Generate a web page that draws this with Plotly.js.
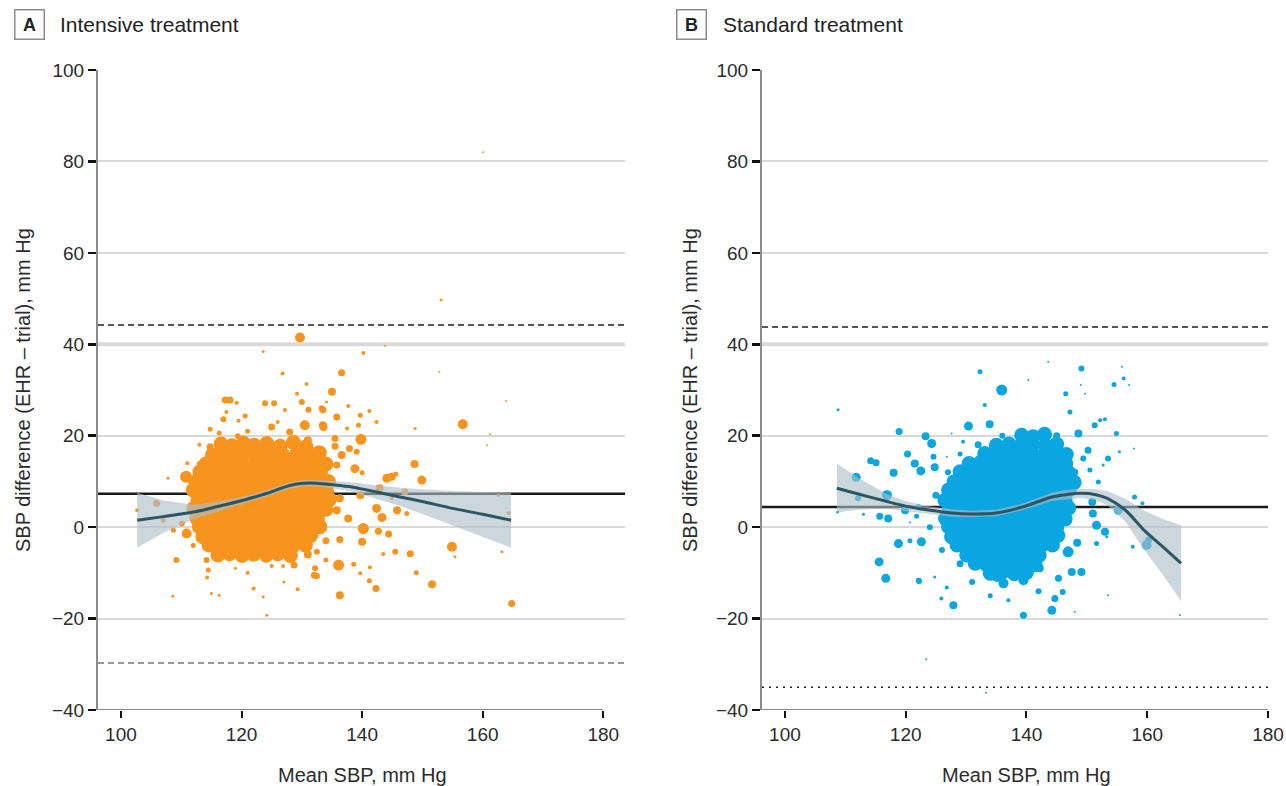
<!DOCTYPE html>
<html>
<head>
<meta charset="utf-8">
<script src="https://cdn.plot.ly/plotly-3.0.1.min.js"></script>
<style>html,body{margin:0;padding:0;background:#fff;}#chart{width:1286px;height:786px;}</style>
</head>
<body>
<div id="chart"></div>
<script>
// ---------- Panel A: Intensive treatment ----------
const intensiveCoreX = [
116.6,118.4,120.3,122.1,124.2,126.4,128.6,130.7,
115.2,117.1,119.0,121.1,123.0,125.1,127.0,129.2,131.1,132.9,
114.1,116.0,118.1,120.0,122.2,124.0,126.1,128.0,130.1,132.0,134.0,
113.1,115.0,117.2,119.1,121.0,123.1,125.0,127.1,129.0,131.2,133.1,
112.4,114.5,116.4,118.6,120.5,122.4,124.6,126.5,128.4,130.6,132.5,134.4,
112.0,114.1,116.0,118.1,120.0,122.1,124.0,126.1,128.0,130.1,132.0,134.1,
112.8,114.9,116.8,118.9,120.8,122.9,124.8,126.9,128.8,130.9,132.8,134.6,
112.1,114.0,116.1,118.0,120.1,122.0,124.1,126.0,128.1,130.0,132.1,134.0,
112.6,114.5,116.6,118.5,120.6,122.5,124.6,126.5,128.6,130.5,132.6,
113.0,115.1,117.0,119.1,121.0,123.1,125.0,127.1,129.0,131.1,133.0,
113.6,115.5,117.6,119.5,121.6,123.5,125.6,127.5,129.6,131.5,
114.6,116.5,118.6,120.5,122.6,124.5,126.6,128.5,130.6,
116.1,118.0,120.1,122.0,124.1,126.0,128.1
];
const intensiveCoreY = [
18.2,17.8,18.4,17.9,18.3,17.7,18.5,17.6,
15.8,16.2,15.7,16.3,15.9,16.1,15.6,16.2,15.9,16.3,
13.8,14.2,13.9,14.1,13.7,14.3,13.8,14.2,13.9,14.1,13.8,
12.1,11.8,12.2,11.9,12.1,11.8,12.2,11.9,12.1,11.8,12.0,
9.9,10.2,9.8,10.1,9.9,10.2,9.8,10.1,9.9,10.2,9.8,10.0,
8.1,7.8,8.2,7.9,8.1,7.8,8.2,7.9,8.1,7.8,8.2,7.9,
5.9,6.2,5.8,6.1,5.9,6.2,5.8,6.1,5.9,6.2,5.8,6.1,
4.1,3.8,4.2,3.9,4.1,3.8,4.2,3.9,4.1,3.8,4.2,3.9,
1.9,2.2,1.8,2.1,1.9,2.2,1.8,2.1,1.9,2.2,1.8,
0.1,-0.2,0.2,-0.1,0.1,-0.2,0.2,-0.1,0.1,-0.2,0.1,
-2.1,-1.8,-2.2,-1.9,-2.1,-1.8,-2.2,-1.9,-2.1,-1.8,
-3.9,-4.2,-3.8,-4.1,-3.9,-4.2,-3.8,-4.1,-3.9,
-6.1,-5.8,-6.2,-5.9,-6.1,-5.8,-6.2
];
const intensiveX = [
129.7,123.6,126.8,130.8,117.3,118.1,119.2,123.9,125.4,129.2,
130.0,131.1,133.3,127.2,117.5,117.0,119.5,120.6,114.8,116.3,
125.0,128.0,130.5,133.5,114.8,119.4,110.8,107.8,113.0,114.2,
105.9,102.7,107.0,108.7,110.9,110.1,109.2,108.6,114.2,114.5,
114.3,115.0,116.3,122.0,124.2,123.6,128.7,132.2,132.5,129.3,
132.5,126.9,125.0,118.1,140.2,136.6,135.0,134.1,133.5,137.7,
141.2,135.8,139.7,142.4,133.6,139.4,137.5,148.8,152.8,163.9,
156.7,161.2,160.7,139.8,135.5,137.9,135.5,139.1,136.6,138.8,
135.8,140.0,148.7,144.1,144.9,145.6,149.9,142.9,147.1,139.7,
136.3,144.9,162.6,142.4,145.8,147.4,135.8,137.7,143.3,164.3,
140.2,142.7,144.4,140.0,136.3,145.5,148.0,143.5,154.9,163.2,
155.4,136.1,138.6,134.0,141.3,139.7,149.0,141.2,142.3,151.6,
136.3,164.8,143.8,153.1,160.1,132.1,121.0,119.0,127.0,112.0,
111.0,113.0,121.0,126.0,131.0,133.0,134.0,131.0,124.0,120.0,
116.0
];
const intensiveY = [
41.5,38.4,33.6,31.3,27.8,27.8,27.2,27.1,27.1,29.2,
27.4,25.7,26.0,25.6,25.2,23.6,23.3,24.3,21.4,20.6,
21.9,20.8,22.3,22.3,17.6,19.9,11.0,10.7,13.9,15.0,
5.2,3.7,1.5,-0.7,-1.4,0.8,-7.2,-15.1,-7.2,-9.4,
-11.0,-14.5,-14.9,-13.4,-19.3,-15.2,-8.3,-9.0,-10.7,-13.6,
-5.4,-8.5,-8.5,-5.4,38.1,33.8,29.6,27.4,25.7,26.5,
25.4,24.1,24.5,23.0,21.9,22.3,21.6,21.6,34.0,27.6,
22.5,20.3,17.9,19.2,19.4,17.2,17.7,16.5,15.8,12.8,
13.6,11.9,13.8,10.7,11.0,11.6,10.3,8.5,7.7,7.0,
6.3,6.3,7.0,4.1,3.7,3.0,3.7,1.9,2.1,3.1,
-0.3,-0.9,-1.5,-3.2,-2.7,-5.4,-5.8,-5.9,-4.3,-5.4,
-6.5,-8.3,-8.1,-7.2,-8.8,-10.1,-10.0,-11.7,-13.4,-12.5,
-14.9,-16.7,39.7,49.7,82.0,-10.5,-10.0,-9.0,-12.0,-4.0,
14.0,18.0,21.0,23.0,19.0,16.0,-3.0,-6.0,-7.0,-7.0,
-3.0
];
const intensiveSize = [
10,3,4,4,7,7,4,6,6,4,
6,6,6,4,4,6,4,5,5,5,
7,7,10,8,7,6,12,3,5,5,
7,4,5,5,10,6,6,3,6,5,
4,3,3,4,3,3,7,6,6,4,
6,4,4,6,4,7,8,3,7,4,
4,7,5,4,8,5,4,3,2,2,
10,2,2,11,7,7,7,6,8,9,
7,5,8,9,8,5,9,8,7,8,
8,4,3,9,8,5,8,8,9,4,
11,7,7,8,7,6,7,4,10,3,
3,11,5,5,4,4,5,5,7,8,
8,7,2,3,2,7,4,3,3,5,
4,4,5,4,8,9,7,8,7,6,
8
];
const intensiveFitX = [102.7,107,112,116,120.6,124,128,130.3,132.5,135,138.3,142,146.3,150,155,160,164.7];
const intensiveFitY = [1.5,2.3,3.3,4.5,6.0,7.3,9.1,9.6,9.6,9.3,8.8,7.8,6.6,5.6,4.1,2.8,1.5];
const intensiveFitUpper = [7.5,5.9,4.9,5.6,6.8,8.0,9.8,10.3,10.3,10.1,9.8,9.2,8.6,8.3,7.9,7.7,7.5];
const intensiveFitLower = [-4.5,-1.3,1.7,3.4,5.2,6.6,8.4,8.9,8.9,8.5,7.8,6.4,4.6,2.9,0.3,-2.1,-4.5];
const intensiveMean = 7.3, intensiveUpperLimit = 44.2, intensiveLowerLimit = -29.7;

// ---------- Panel B: Standard treatment ----------
const standardCoreX = [
139.2,141.1,143.0,
135.0,137.1,139.0,141.0,143.1,145.0,
133.1,135.0,137.0,139.1,141.0,143.0,145.1,146.6,
130.5,132.4,134.5,136.4,138.5,140.4,142.5,144.4,146.5,
129.0,131.1,133.0,135.1,137.0,139.1,141.0,143.1,145.0,147.1,
128.0,130.0,132.1,134.0,136.1,138.0,140.1,142.0,144.1,146.0,147.9,
127.1,129.0,131.1,133.0,135.1,137.0,139.1,141.0,143.1,145.0,147.1,
126.5,128.5,130.4,132.5,134.4,136.5,138.4,140.5,142.4,144.5,146.4,
127.2,129.1,131.2,133.1,135.2,137.1,139.2,141.1,143.2,145.1,147.0,
126.6,128.5,130.6,132.5,134.6,136.5,138.6,140.5,142.6,144.5,146.4,
127.1,129.0,131.1,133.0,135.1,137.0,139.1,141.0,143.1,145.0,
127.6,129.5,131.6,133.5,135.6,137.5,139.6,141.5,143.6,145.2,
128.5,130.4,132.5,134.4,136.5,138.4,140.5,142.4,144.3,
130.1,132.0,134.1,136.0,138.1,140.0,142.1,
131.5,133.4,135.5,137.4,139.5,141.4,
134.0,136.0,138.0,140.0
];
const standardCoreY = [
20.1,19.8,20.3,
17.9,18.2,17.8,18.1,17.9,18.2,
16.1,15.8,16.2,15.9,16.1,15.8,16.2,15.9,
13.9,14.2,13.8,14.1,13.9,14.2,13.8,14.1,13.9,
12.1,11.8,12.2,11.9,12.1,11.8,12.2,11.9,12.1,11.8,
9.9,10.2,9.8,10.1,9.9,10.2,9.8,10.1,9.9,10.2,9.8,
8.1,7.8,8.2,7.9,8.1,7.8,8.2,7.9,8.1,7.8,8.2,
5.9,6.2,5.8,6.1,5.9,6.2,5.8,6.1,5.9,6.2,5.8,
4.1,3.8,4.2,3.9,4.1,3.8,4.2,3.9,4.1,3.8,4.2,
1.9,2.2,1.8,2.1,1.9,2.2,1.8,2.1,1.9,2.2,1.8,
0.1,-0.2,0.2,-0.1,0.1,-0.2,0.2,-0.1,0.1,-0.2,
-2.1,-1.8,-2.2,-1.9,-2.1,-1.8,-2.2,-1.9,-2.1,-1.8,
-3.9,-4.2,-3.8,-4.1,-3.9,-4.2,-3.8,-4.1,-3.9,
-6.1,-5.8,-6.2,-5.9,-6.1,-5.8,-6.2,
-7.9,-8.2,-7.8,-8.1,-7.9,-8.2,
-10.1,-9.8,-10.2,-9.9
];
const standardX = [
108.8,118.9,123.3,124.3,114.2,115.1,120.3,111.8,118.0,121.5,
122.5,124.8,124.6,116.9,112.1,119.9,115.7,117.1,113.0,108.7,
121.8,118.8,120.7,122.6,115.6,116.7,122.1,124.8,125.9,127.9,
126.8,120.7,122.1,132.3,133.1,130.4,133.9,135.9,127.6,129.5,
126.8,149.1,155.8,156.1,157.0,154.5,146.5,149.7,140.3,143.6,
149.0,147.2,152.2,151.3,153.0,154.9,157.8,155.4,153.5,152.7,
150.5,151.9,150.2,149.4,148.6,157.9,159.2,155.2,153.0,151.0,
151.6,150.9,159.9,160.2,157.6,151.6,153.3,148.4,146.9,149.1,
147.5,145.3,146.0,144.7,144.2,139.5,139.5,142.2,148.0,153.5,
165.4,135.1,136.2,122.2,123.4,133.3,129.0,131.0,134.0,137.0,
142.0,127.0,129.0,132.0,136.0,145.0,147.0,148.0,126.0,125.0,
124.0
];
const standardY = [
25.7,20.9,19.9,18.3,14.5,14.1,16.0,10.9,11.9,13.9,
12.3,13.1,15.4,7.0,6.3,3.7,2.4,1.9,2.8,3.3,
2.4,-3.6,-3.0,-3.2,-7.6,-11.2,-11.6,-10.9,-15.6,-17.1,
-13.2,1.0,4.4,34.0,26.7,22.1,22.5,30.0,20.5,18.7,
15.4,34.7,35.1,32.5,31.1,31.2,29.2,29.2,32.2,36.2,
31.1,25.2,23.4,22.3,23.6,20.5,17.2,16.5,15.0,13.6,
12.5,9.9,16.8,15.0,20.5,6.6,5.2,3.7,-1.0,3.0,
0.4,5.5,-3.9,-2.8,-4.3,-3.6,-2.1,-3.4,-5.4,-9.8,
-9.8,-11.2,-14.2,-15.6,-18.2,-19.3,-11.6,-9.0,-18.5,-14.9,
-19.3,-10.9,-12.3,-11.8,-28.9,-36.2,-8.0,-12.0,-15.0,-16.0,
-14.0,12.0,16.0,18.0,20.0,20.0,16.0,12.0,-5.0,7.0,
0.0
];
const standardSize = [
3,7,8,9,7,7,7,9,8,8,
9,8,6,10,6,8,7,8,3,3,
5,9,5,9,9,9,5,3,4,8,
4,2,6,5,4,9,8,11,2,4,
2,6,2,4,2,5,5,2,2,2,
2,5,4,6,4,5,2,3,6,3,
5,5,7,6,8,5,4,9,8,8,
9,8,10,7,4,5,3,8,11,8,
8,7,6,7,9,7,10,8,2,2,
2,10,10,6,2,2,7,6,5,4,
6,6,5,7,6,7,8,7,6,7,
6
];
const standardFitX = [108.6,112,116.9,120,123.5,127.6,131,135,139.3,142,144.2,146.5,149.1,151.5,153.4,156.4,159.5,162.6,165.6];
const standardFitY = [8.5,7.3,5.6,4.6,3.8,3.1,2.9,3.1,4.4,5.6,6.6,7.1,7.4,7.1,6.3,3.7,-0.7,-4.3,-7.9];
const standardFitUpper = [13.9,10.9,7.2,5.7,4.6,3.9,3.6,3.8,5.1,6.4,7.5,8.1,8.4,8.3,7.9,6.2,3.6,1.8,0.4];
const standardFitLower = [3.2,3.8,4.0,3.6,3.0,2.3,2.2,2.4,3.7,4.8,5.7,6.1,6.4,5.9,4.8,1.2,-5.0,-10.4,-16.2];
const standardMean = 4.4, standardUpperLimit = 43.8, standardLowerLimit = -35.0;

const xTicks = [100, 120, 140, 160, 180];
const yTicks = [-40, -20, 0, 20, 40, 60, 80, 100];
const xTitle = 'Mean SBP, mm Hg';
const yTitle = 'SBP difference (EHR – trial), mm Hg';

// ---------- styling ----------
const FONT = 'Liberation Sans, Arial, sans-serif';
const ORANGE = '#F7941D';
const BLUE = '#0AA6E2';
const BAND = 'rgba(172,190,200,0.62)';
const FIT = '#2C5663';
const W = 1286, H = 786;
const rangeA = [96.2, 183.6], rangeB = [96.2, 180];

function hTrace(xa, ya, range, y, color, width, dash) {
  return {x: range, y: [y, y], xaxis: xa, yaxis: ya, type: 'scatter', mode: 'lines',
    line: {color: color, width: width, dash: dash}, hoverinfo: 'skip'};
}

// reference lines on base axes; points, band and fit on an overlay subplot drawn above them
function panelTraces(xa, ya, oxa, oya, range, coreX, coreY, px, py, ps, color, fx, fy, fu, fl, mean, up, lo, loDash, loColor) {
  return [
    hTrace(xa, ya, range, 40, '#dadada', 4, 'solid'),
    hTrace(xa, ya, range, mean, '#1a1a1a', 2.5, 'solid'),
    hTrace(xa, ya, range, up, '#222', 1.5, '6px,4px'),
    hTrace(xa, ya, range, lo, loColor, 1.5, loDash),
    {x: coreX, y: coreY, xaxis: oxa, yaxis: oya, type: 'scatter', mode: 'markers',
     marker: {color: color, size: 15, opacity: 1, line: {width: 0}}, hoverinfo: 'skip'},
    {x: px, y: py, xaxis: oxa, yaxis: oya, type: 'scatter', mode: 'markers',
     marker: {color: color, size: ps, opacity: 1, line: {width: 0}}, hoverinfo: 'skip'},
    {x: fx.concat(fx.slice().reverse()), y: fu.concat(fl.slice().reverse()),
     xaxis: oxa, yaxis: oya, type: 'scatter', mode: 'lines', fill: 'toself',
     fillcolor: BAND, line: {width: 0, color: 'rgba(0,0,0,0)'}, hoverinfo: 'skip'},
    {x: fx, y: fy, xaxis: oxa, yaxis: oya, type: 'scatter', mode: 'lines',
     line: {color: FIT, width: 3, shape: 'spline', smoothing: 0.8}, hoverinfo: 'skip'}
  ];
}

const data = [].concat(
  panelTraces('x', 'y', 'x3', 'y3', rangeA, intensiveCoreX, intensiveCoreY, intensiveX, intensiveY, intensiveSize, ORANGE,
              intensiveFitX, intensiveFitY, intensiveFitUpper, intensiveFitLower,
              intensiveMean, intensiveUpperLimit, intensiveLowerLimit, '6px,4px', '#777'),
  panelTraces('x2', 'y2', 'x4', 'y4', rangeB, standardCoreX, standardCoreY, standardX, standardY, standardSize, BLUE,
              standardFitX, standardFitY, standardFitUpper, standardFitLower,
              standardMean, standardUpperLimit, standardLowerLimit, '2px,5px', '#222')
);

const yDomain = [(H - 710) / H, (H - 70) / H];
function xAxis(domain, range, anchor) {
  return {domain: domain, range: range, anchor: anchor, tickmode: 'array', tickvals: xTicks,
    ticks: 'outside', ticklen: 7, tickwidth: 2, tickcolor: '#111',
    showgrid: false, zeroline: false, showline: false,
    tickfont: {family: FONT, size: 19, color: '#2b2b2b'}, fixedrange: true};
}
function yAxis(anchor) {
  return {domain: yDomain, range: [-40, 100], tickmode: 'array', tickvals: yTicks, anchor: anchor,
    ticks: 'outside', ticklen: 8, tickwidth: 2.5, tickcolor: '#111',
    showgrid: true, gridcolor: '#d9d9d9', gridwidth: 2, zeroline: false,
    showline: true, linecolor: '#8c8c8c', linewidth: 2,
    tickfont: {family: FONT, size: 19, color: '#2b2b2b'}, fixedrange: true};
}
function overlayX(base, range, anchor) {
  return {overlaying: base, range: range, anchor: anchor, visible: false, fixedrange: true};
}
function overlayY(base, anchor) {
  return {overlaying: base, range: [-40, 100], anchor: anchor, visible: false, fixedrange: true};
}

const shapes = [
  {type: 'line', xref: 'x', yref: 'y', x0: rangeA[0], x1: 180, y0: -40, y1: -40,
   line: {color: '#8c8c8c', width: 2}, layer: 'above'},
  {type: 'line', xref: 'x2', yref: 'y2', x0: rangeB[0], x1: 180, y0: -40, y1: -40,
   line: {color: '#8c8c8c', width: 2}, layer: 'above'}
];

function panelLabel(letter, xpx, title) {
  return [
    {text: '<b>' + letter + '</b>', xref: 'paper', yref: 'paper', x: xpx / W, y: 1 - 24 / H,
     xanchor: 'center', yanchor: 'middle', showarrow: false, width: 26, height: 26,
     bordercolor: '#8c8c8c', borderwidth: 1.5, borderpad: 1, bgcolor: '#fff',
     font: {family: FONT, size: 18, color: '#222'}},
    {text: title, xref: 'paper', yref: 'paper', x: (xpx + 29) / W, y: 1 - 24 / H,
     xanchor: 'left', yanchor: 'middle', showarrow: false,
     font: {family: FONT, size: 21, color: '#222'}}
  ];
}

const annotations = [].concat(
  panelLabel('A', 29, 'Intensive treatment'),
  panelLabel('B', 692, 'Standard treatment'),
  [
    {text: xTitle, xref: 'x', yref: 'paper', x: 140, y: 1 - 775 / H, xanchor: 'center', yanchor: 'middle',
     showarrow: false, font: {family: FONT, size: 20, color: '#2b2b2b'}},
    {text: xTitle, xref: 'x2', yref: 'paper', x: 140, y: 1 - 775 / H, xanchor: 'center', yanchor: 'middle',
     showarrow: false, font: {family: FONT, size: 20, color: '#2b2b2b'}},
    {text: yTitle, xref: 'paper', yref: 'paper', x: 23 / W, y: 1 - 390 / H, xanchor: 'center', yanchor: 'middle',
     textangle: -90, showarrow: false, font: {family: FONT, size: 20, color: '#2b2b2b'}},
    {text: yTitle, xref: 'paper', yref: 'paper', x: 690 / W, y: 1 - 390 / H, xanchor: 'center', yanchor: 'middle',
     textangle: -90, showarrow: false, font: {family: FONT, size: 20, color: '#2b2b2b'}}
  ]
);

const layout = {
  width: W, height: H, margin: {l: 0, r: 0, t: 0, b: 0},
  paper_bgcolor: '#fff', plot_bgcolor: '#fff', showlegend: false,
  xaxis: xAxis([98 / W, 625 / W], rangeA, 'y'),
  yaxis: yAxis('x'),
  xaxis2: xAxis([762 / W, 1268 / W], rangeB, 'y2'),
  yaxis2: yAxis('x2'),
  xaxis3: overlayX('x', rangeA, 'y3'),
  yaxis3: overlayY('y', 'x3'),
  xaxis4: overlayX('x2', rangeB, 'y4'),
  yaxis4: overlayY('y2', 'x4'),
  shapes: shapes,
  annotations: annotations,
  font: {family: FONT}
};

Plotly.newPlot('chart', data, layout, {staticPlot: true, displayModeBar: false});
</script>
</body>
</html>
